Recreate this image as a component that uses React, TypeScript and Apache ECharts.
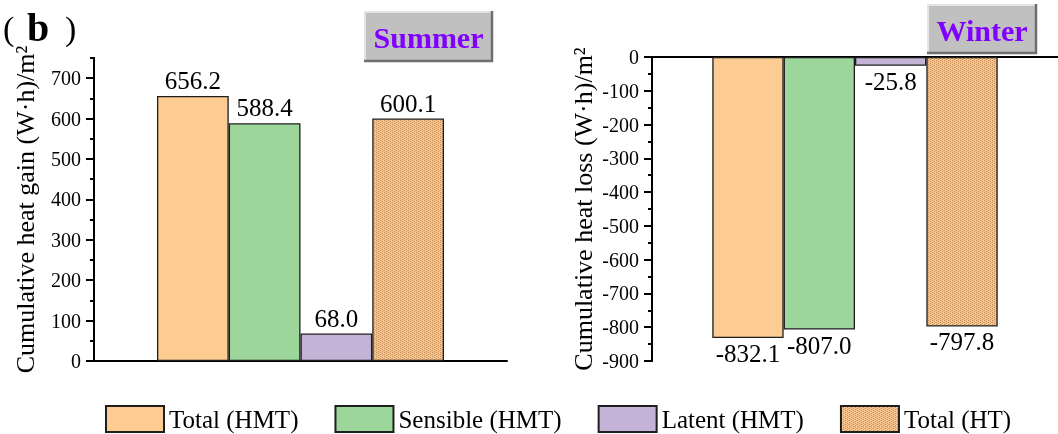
import React, { useEffect, useRef } from "react";
import * as echarts from "echarts";

const categories = [""];
const seriesNames = ["Total (HMT)", "Sensible (HMT)", "Latent (HMT)", "Total (HT)"];
const summerValues = [656.2, 588.4, 68.0, 600.1];
const winterValues = [-832.1, -807.0, -25.8, -797.8];
const summerMajorTicks = [0, 100, 200, 300, 400, 500, 600, 700];
const summerMinorTicks = [50, 150, 250, 350, 450, 550, 650, 750];
const winterMajorTicks = [0, -100, -200, -300, -400, -500, -600, -700, -800, -900];
const winterMinorTicks = [-50, -150, -250, -350, -450, -550, -650, -750, -850];

const FONT = '"Liberation Serif", "Times New Roman", serif';

function makePattern(): string {
  const c = document.createElement("canvas");
  c.width = 4;
  c.height = 4;
  const ctx = c.getContext("2d")!;
  ctx.fillStyle = "#f8c892";
  ctx.fillRect(0, 0, 4, 4);
  ctx.fillStyle = "#c98f5a";
  ctx.fillRect(0, 0, 1, 1);
  ctx.fillRect(2, 1, 1, 1);
  ctx.fillRect(0, 2, 1, 1);
  ctx.fillRect(2, 3, 1, 1);
  ctx.fillStyle = "#e2ab74";
  ctx.fillRect(1, 0, 1, 1);
  ctx.fillRect(3, 2, 1, 1);
  return c.toDataURL();
}

export default function App() {
  const ref = useRef<HTMLDivElement>(null);
  useEffect(() => {
    if (!ref.current) return;
    const chart = echarts.init(ref.current, null, { renderer: "svg" });
    const pattern = makePattern();
    const colors: any[] = [
      "#fdcc92",
      "#9dd69a",
      "#c5b3d7",
      { image: pattern, repeat: "repeat" },
    ];
    const border = { borderColor: "#1e1e1e", borderWidth: 1.3 };
    const axisLine = { show: true, lineStyle: { color: "#000", width: 2 } };

    const makeYAxes = (grid: number, min: number, max: number, major: number[], minor: number[], name: string) => [
      {
        type: "value",
        gridIndex: grid,
        position: "left",
        min,
        max,
        axisLine,
        splitLine: { show: false },
        axisTick: { show: true, customValues: major, length: 8, lineStyle: { color: "#000", width: 2 } },
        axisLabel: { customValues: major, fontSize: 20, fontFamily: FONT, color: "#000", margin: 13 },
        name,
        nameLocation: "middle",
        nameRotate: 90,
        nameGap: 56,
        nameTextStyle: { fontSize: 26, fontFamily: FONT, color: "#000" },
      },
      {
        type: "value",
        gridIndex: grid,
        position: "left",
        min,
        max,
        axisLine,
        splitLine: { show: false },
        axisTick: { show: true, customValues: minor, length: 4, lineStyle: { color: "#000", width: 2 } },
        axisLabel: { show: false },
      },
    ];

    const makeSeries = (values: number[], grid: number, yIdx: number, pos: string, gap: string) =>
      values.map((v, i) => ({
        type: "bar",
        name: seriesNames[i],
        xAxisIndex: grid,
        yAxisIndex: yIdx,
        data: [v],
        barGap: "0%",
        barCategoryGap: gap,
        itemStyle: { color: colors[i], ...border },
        label: {
          show: true,
          position: pos,
          distance: 3,
          formatter: (p: any) => Number(p.value).toFixed(1),
          fontSize: 25,
          fontFamily: FONT,
          color: "#000",
        },
      }));

    const badge = (x: number, y: number, w: number, h: number, text: string) => ({
      type: "group",
      children: [
        { type: "rect", shape: { x, y, width: w, height: h }, style: { fill: "#c0c0c0" } },
        { type: "line", shape: { x1: x, y1: y + 1, x2: x + w, y2: y + 1 }, style: { stroke: "#e4e4e4", lineWidth: 2 } },
        { type: "line", shape: { x1: x + 1, y1: y, x2: x + 1, y2: y + h }, style: { stroke: "#e4e4e4", lineWidth: 2 } },
        { type: "line", shape: { x1: x, y1: y + h - 1, x2: x + w, y2: y + h - 1 }, style: { stroke: "#6e6e6e", lineWidth: 2.5 } },
        { type: "line", shape: { x1: x + w - 1, y1: y, x2: x + w - 1, y2: y + h }, style: { stroke: "#6e6e6e", lineWidth: 2.5 } },
        {
          type: "text",
          x: x + w / 2,
          y: y + h / 2 + 1,
          style: {
            text,
            fill: "#8000ff",
            font: `bold 30px ${FONT}`,
            align: "center",
            verticalAlign: "middle",
          },
        },
      ],
    });

    chart.setOption({
      animation: false,
      grid: [
        { left: 94, top: 58, width: 413, height: 303 },
        { left: 652, top: 57, width: 411, height: 304 },
      ],
      xAxis: [
        { type: "category", gridIndex: 0, data: categories, axisLine, axisTick: { show: false }, axisLabel: { show: false } },
        { type: "category", gridIndex: 1, data: categories, axisLine, axisTick: { show: false }, axisLabel: { show: false } },
      ],
      yAxis: [
        ...makeYAxes(0, 0, 750, summerMajorTicks, summerMinorTicks, "Cumulative heat gain (W·h)/m²"),
        ...makeYAxes(1, -900, 0, winterMajorTicks, winterMinorTicks, "Cumulative heat loss (W·h)/m²"),
      ],
      legend: {
        left: 105,
        top: 405,
        padding: 0,
        itemWidth: 58,
        itemHeight: 26,
        itemGap: 36,
        icon: "rect",
        selectedMode: false,
        data: seriesNames,
        textStyle: { fontSize: 25, fontFamily: FONT, color: "#000" },
      },
      series: [
        ...makeSeries(summerValues, 0, 0, "top", "30.5%"),
        ...makeSeries(winterValues, 1, 2, "bottom", "29.7%"),
      ],
      graphic: [
        { type: "text", x: 3, y: 28, style: { text: "(", font: `34px ${FONT}`, fill: "#000", verticalAlign: "middle" } },
        { type: "text", x: 27, y: 27, style: { text: "b", font: `bold 40px ${FONT}`, fill: "#000", verticalAlign: "middle" } },
        { type: "text", x: 65, y: 28, style: { text: ")", font: `34px ${FONT}`, fill: "#000", verticalAlign: "middle" } },
        badge(364, 11, 129, 51, "Summer"),
        badge(927, 4, 110, 50, "Winter"),
      ],
    });
    return () => chart.dispose();
  }, []);
  return <div ref={ref} style={{ position: "fixed", left: 0, top: 0, width: 1058, height: 434 }} />;
}
